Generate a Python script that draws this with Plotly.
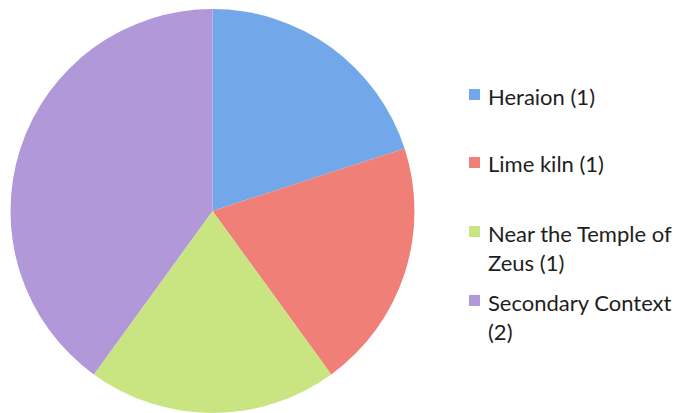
import plotly.graph_objects as go

W, H = 686, 413
OFF = 8  # page body margin shifts the figure by this much

labels = ["Heraion", "Lime kiln", "Near the Temple of Zeus", "Secondary Context"]
counts = [1, 1, 1, 2]
legend_lines = [["Heraion (1)"], ["Lime kiln (1)"], ["Near the Temple of", "Zeus (1)"], ["Secondary Context", "(2)"]]
colors = ["#72a8ea", "#f07f77", "#c9e581", "#b198d9"]

FONT = "Lato"

fig = go.Figure(go.Pie(
    labels=labels,
    values=counts,
    sort=False,
    direction="clockwise",
    rotation=0,
    marker=dict(colors=colors, line=dict(width=0)),
    textinfo="none",
    hoverinfo="label+value",
    domain=dict(x=[(10 - OFF) / W, (415 - OFF) / W],
                y=[1 - (413 - OFF) / H, 1 - (9 - OFF) / H]),
    showlegend=False,
))

# legend drawn by hand so spacing matches the original
entry_top = [96, 164, 233, 302]
line_gap = 29
shapes = []
annotations = []
for lines, col, top in zip(legend_lines, colors, entry_top):
    y = top - OFF
    shapes.append(dict(
        type="rect", xref="paper", yref="paper",
        x0=(469 - OFF) / W, x1=(480 - OFF) / W,
        y0=1 - (y + 4) / H, y1=1 - (y - 7) / H,
        fillcolor=col, line=dict(width=0),
    ))
    for i, ln in enumerate(lines):
        annotations.append(dict(
            text=ln, xref="paper", yref="paper",
            x=(486 - OFF) / W, y=1 - (y + i * line_gap) / H,
            xanchor="left", yanchor="middle", showarrow=False,
            font=dict(family=FONT, size=22, color="#1e1e1e"),
        ))

fig.update_layout(
    width=W, height=H,
    margin=dict(l=0, r=0, t=0, b=0),
    paper_bgcolor="white",
    plot_bgcolor="white",
    shapes=shapes,
    annotations=annotations,
)

fig.write_html("out.html")
